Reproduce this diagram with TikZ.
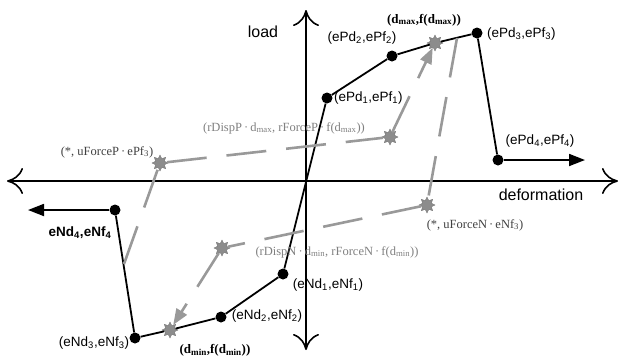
\documentclass[tikz,border=0pt]{standalone}
\usepackage{fontspec}
\setmainfont{Liberation Serif}
\setsansfont{Liberation Sans}
\usetikzlibrary{arrows.meta,shapes.geometric}

\begin{document}
\begin{tikzpicture}[x=1pt,y=-1pt,
    >={Computer Modern Rightarrow[length=16pt,width=26pt]},
    axis/.style ={line width=1.6pt, <->},
    envelope/.style ={line width=1.8pt},
    corner/.style ={circle, fill=black, inner sep=0pt, minimum size=11pt},
    target/.style ={star, star points=8, star point ratio=1.7, draw=black!55, fill=black!45, inner sep=0pt, minimum size=16pt},
    cyclic/.style ={line width=2.6pt, black!40, dash pattern=on 40pt off 20pt},
    head/.style ={-{Triangle[length=16pt,width=12pt]}},
    tag/.style ={font=\sffamily\fontsize{13.5}{15}\selectfont, inner sep=1pt},
    note/.style ={font=\fontsize{12.5}{14}\selectfont, inner sep=1pt},
    peak/.style ={font=\bfseries\fontsize{13}{15}\selectfont, inner sep=1pt}]
   \useasboundingbox (0,0) rectangle (622,360);
   % axes
   \coordinate (xl) at (7,181);
   \coordinate (xr) at (618,181);
   \coordinate (yb) at (306,350);
   \coordinate (yt) at (306,10);
   \draw[axis] (xl) to (xr);
   \draw[axis] (yb) to (yt);
   \node[tag, font=\sffamily\fontsize{16}{18}\selectfont] (load) at (263,32) {load};
   \node[tag, font=\sffamily\fontsize{16}{18}\selectfont] (defo) at (541,195) {deformation};
   % backbone points
   \node[corner] (P1) at (327,98)  {};
   \node[corner] (P2) at (392,56)  {};
   \node[target] (dmax) at (435,43) {};
   \node[corner] (P3) at (477,33)  {};
   \node[corner] (P4) at (498,160) {};
   \coordinate (P5) at (585,160);
   \node[corner] (N1) at (283,274) {};
   \node[corner] (N2) at (221,317) {};
   \node[target] (dmin) at (170,330) {};
   \node[corner] (N3) at (135,338) {};
   \node[corner] (N4) at (115,210) {};
   \coordinate (N5) at (28,210);
   % cyclic points
   \node[target] (uFP) at (160,163) {};
   \node[target] (rDP) at (390,137) {};
   \node[target] (uFN) at (427,205) {};
   \node[target] (rDN) at (222,248) {};
   \coordinate (startP) at (457,38);
   \coordinate (startN) at (124,264);
   \draw[envelope] (N1) to (P1);
   \draw[envelope] (P1) -- (P2) -- (dmax) -- (P3) -- (P4);
   \draw[envelope, head] (P4) to (P5);
   \draw[envelope] (N1) -- (N2) -- (dmin) -- (N3) -- (N4);
   \draw[envelope, head] (N4) to (N5);
   \draw[cyclic] (startP) -- (uFN) -- (rDN);
   \draw[cyclic, head] (rDN) to (dmin);
   \draw[cyclic] (startN) -- (uFP) -- (rDP);
   \draw[cyclic, head] (rDP) to (dmax);
   % labels
   \node[tag, anchor=west] (lP1) at (333,98) {(ePd\textsubscript{1},ePf\textsubscript{1})};
   \node[tag] (lP2) at (362,38) {(ePd\textsubscript{2},ePf\textsubscript{2})};
   \node[peak] (ldmax) at (424,20) {(d\textsubscript{max},f(d\textsubscript{max}))};
   \node[tag, anchor=west] (lP3) at (486,34) {(ePd\textsubscript{3},ePf\textsubscript{3})};
   \node[tag] (lP4) at (540,141) {(ePd\textsubscript{4},ePf\textsubscript{4})};
   \node[note, text=black!50] (lrDP) at (284,128) {(rDispP\,·\,d\textsubscript{max}, rForceP\,·\,f(d\textsubscript{max}))};
   \node[note, text=black!75] (luFP) at (107,152) {(*, uForceP\,·\,ePf\textsubscript{3})};
   \node[tag, font=\sffamily\bfseries\fontsize{13.5}{15}\selectfont] (lN4) at (80,233) {eNd\textsubscript{4},eNf\textsubscript{4}};
   \node[tag] (lN3) at (94,343) {(eNd\textsubscript{3},eNf\textsubscript{3})};
   \node[peak] (ldmin) at (215,350) {(d\textsubscript{min},f(d\textsubscript{min}))};
   \node[tag] (lN2) at (267,316) {(eNd\textsubscript{2},eNf\textsubscript{2})};
   \node[tag] (lN1) at (328,285) {(eNd\textsubscript{1},eNf\textsubscript{1})};
   \node[note, text=black!50] (lrDN) at (337,252) {(rDispN\,·\,d\textsubscript{min}, rForceN\,·\,f(d\textsubscript{min}))};
   \node[note, text=black!75] (luFN) at (475,225) {(*, uForceN\,·\,eNf\textsubscript{3})};
 \end{tikzpicture}
\end{document}
